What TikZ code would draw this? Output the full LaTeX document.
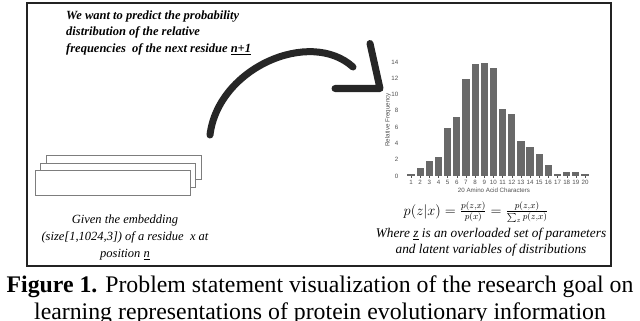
\documentclass[tikz,border=0pt]{standalone}
\usepackage{fontspec}
\setmainfont{Liberation Serif}
\setsansfont{Liberation Sans}
\usepackage{amsmath}
\usetikzlibrary{calc}
\definecolor{frameink}{RGB}{35,35,35}
\definecolor{barfill}{RGB}{105,105,105}
\definecolor{sheetedge}{RGB}{125,125,125}
\definecolor{axtxt}{RGB}{80,80,80}
\tikzset{
  sheet/.style={
    draw=sheetedge, fill=white, line width=0.9pt,
    minimum width=155pt, minimum height=24.5pt, inner sep=0pt
  },
  bigarc/.style={draw=black!85, line width=7pt, line cap=round, line join=round},
  goal/.style={font=\fontsize{12.5}{16.5}\selectfont\bfseries\itshape, align=left, inner sep=0pt},
  note/.style={font=\fontsize{12.5}{17}\selectfont\itshape, align=center, inner sep=0pt},
  bar/.style={fill=barfill, draw=none},
  tick/.style={font=\fontsize{6.2}{7}\selectfont\sffamily, text=axtxt, inner sep=0.5pt},
  caption/.style={font=\fontsize{23.8}{27}\selectfont, align=center, inner sep=0pt}
}

\begin{document}
\begin{tikzpicture}[x=1pt,y=-1pt]
  \useasboundingbox (0,0) rectangle (640,321);
  \draw[frameink, line width=1.4pt] (27,3) rectangle (611,266);

  % the question
  \node[goal, anchor=north west] (goal) at (66,10.5)
    {We want to predict the probability\\
     distribution of the relative\\
     frequencies\ \ of the next residue \underline{n+1}};

  % stacked embedding
  \node[sheet] (back) at (124.2,167.5) {};
  \node[sheet] (mid) at (118.4,175.5) {};
  \node[sheet] (front) at (112.9,183) {};
  \node[note, anchor=north] (given) at (125,215)
    {Given the embedding\\
     (size[1,1024,3]) of a residue\ \ x at\\
     position \underline{n}};

  % arc to the distribution
  \coordinate (arcS) at (210,135);
  \coordinate (arcE) at (353,67);
  \coordinate (arcTip) at (380,88.5);
  \draw[bigarc] (arcS) .. controls (218,68) and (310,28) .. (arcE);
  \draw[bigarc] (370,43.5) -- (arcTip) -- (335,88.5);

  % histogram
  \foreach \h [count=\i] in {0.25,1.0,1.9,2.3,5.9,7.2,11.9,13.7,13.9,13.3,
                             8.2,7.6,4.3,3.5,2.7,1.3,0.25,0.45,0.45,0.25} {
    \fill[bar] ({411+(\i-1)*9.16-3.6},176) rectangle ++(7.2,{-\h*8.15});
    \draw[axtxt, line width=0.3pt] ({411+(\i-1)*9.16},176) -- ++(0,1.8);
    \node[tick] (xt-\i) at ({411+(\i-1)*9.16},182) {\i};
  }
  \foreach \v in {0,2,...,14} {
    \node[tick, anchor=east] (yt-\v) at (399,{176-\v*8.15}) {\v};
  }
  \node[tick, rotate=90] (ylab) at (388,120) {Relative Frequency};
  \node[tick] (xlab) at (494,190.5) {20 Amino Acid Characters};

  % formula and remark
  \node[font=\fontsize{13.3}{15}\selectfont, inner sep=0pt, anchor=base] (bayes) at (476,215)
    {$p(z|x) = \frac{p(z,x)}{p(x)} = \frac{p(z,x)}{\sum_z p(z,x)}$};
  \node[note, font=\fontsize{13.3}{16}\selectfont\itshape, anchor=north] (where) at (491,227.5)
    {Where \underline{z} is an overloaded set of parameters\\
     and latent variables of distributions};

  \node[caption, anchor=north] (cap) at (320,275.5)
    {\textbf{Figure 1.} Problem statement visualization of the research goal on\\
     learning representations of protein evolutionary information};
\end{tikzpicture}
\end{document}
